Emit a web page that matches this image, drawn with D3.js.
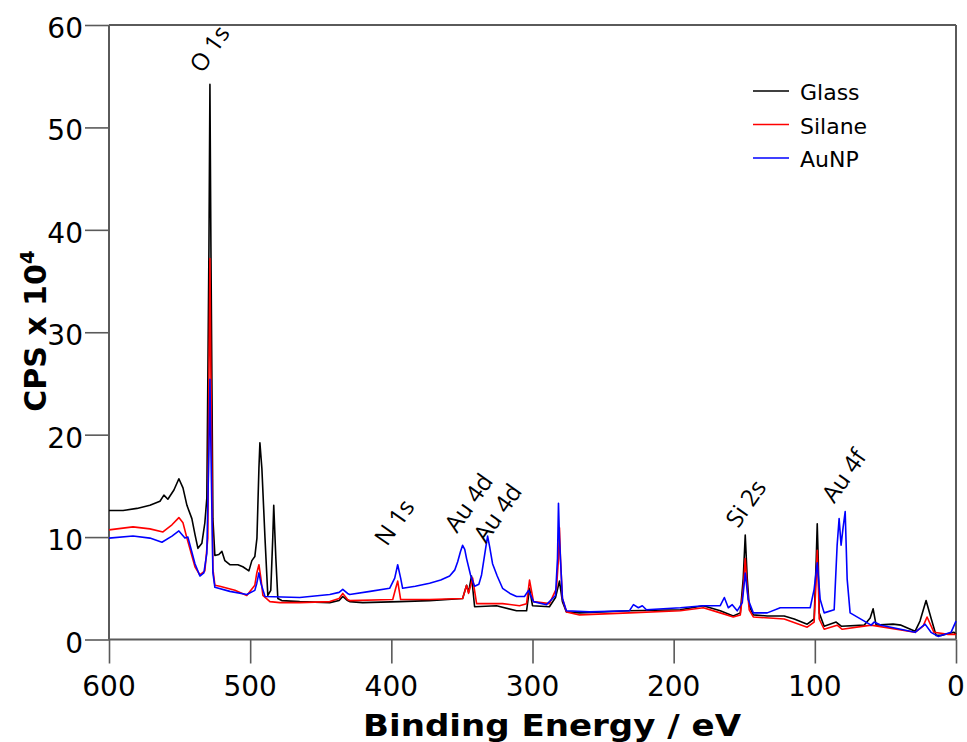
<!DOCTYPE html>
<html>
<head>
<meta charset="utf-8">
<script src="https://cdn.jsdelivr.net/npm/d3@7"></script>
<style>
  body { margin: 0; background: #fff; }
  text { font-family: "DejaVu Sans", Verdana, sans-serif; }
</style>
</head>
<body>
<div id="xps_chart"></div>
<script>
// binding energy (eV), counts (x 10^4)
var glass = [
  [600,12.6],[590,12.6],[580.2,12.8],[571,13.1],[563.9,13.5],[561.1,14.1],[558.3,13.7],[554,14.6],
  [550.5,15.7],[547.6,14.8],[544.8,13.1],[541.3,11.8],[539,10.2],[537,8.9],[534.2,9.4],[532.1,11.4],
  [530.7,13.8],[529.2,38.3],[528.5,54.2],[527.8,38.3],[526.4,11.8],[525,8.2],[522.2,8.3],
  [520,8.6],[517.9,7.7],[514.4,7.3],[508.7,7.3],[505.2,7.1],[500.9,6.7],[498.8,7.7],
  [496.7,8.1],[495.2,9.9],[493.8,16.7],[493.1,19.2],[491.7,16.7],[489.5,9.9],[487.5,4.3],
  [485.4,4.8],[484,9.9],[483.3,13.1],[481.8,7.9],[480.4,4.0],[477.6,3.8],[464.9,3.7],
  [443.6,3.6],[437,3.8],[434.4,4.2],[431,3.8],[429.5,3.7],[420.3,3.6],[394.1,3.7],[372.9,3.8],[349.5,4.0],
  [346.7,5.3],[345.3,4.6],[343.2,6.2],[341,3.2],[325.5,3.3],[311.3,2.8],[304.2,2.8],
  [302.1,5.0],[300,3.3],[288,3.2],[283.7,4.1],[280.9,5.7],[278.8,3.7],[276,2.7],
  [266.7,2.6],[231.4,2.8],[195.3,2.9],[179,3.3],[167,2.8],[157.8,2.3],[152.8,2.6],
  [150.7,6.0],[149.3,10.2],[147.9,6.0],[146.5,3.3],[143.6,2.4],[133.7,2.3],[121.7,2.3],
  [114.6,2.0],[105.4,1.5],[100.5,2.0],[99,7.9],[98.3,11.3],[97.6,7.9],[96.9,2.6],
  [93.4,1.3],[84.9,1.7],[81.3,1.3],[65.1,1.4],[60.8,2.1],[58.7,3.0],[56.6,1.4],
  [44.6,1.5],[38.9,1.4],[29,0.8],[25.5,1.8],[21.2,3.8],[17.7,2.1],[14.1,0.4],
  [10.6,0.4],[1.4,0.7],[0,0.5]
];

var silane = [
  [600,10.7],[583,11.0],[571,10.8],[561.8,10.5],[555.4,11.2],[550.5,11.9],[547.6,11.4],
  [544.8,9.9],[539.1,7.1],[535.6,6.3],[532.1,6.7],[530,9.9],[529.2,25.5],[528.5,37.2],
  [527.8,25.5],[526.4,6.9],[525,5.3],[521.5,5.2],[510.8,4.8],[502.4,4.3],[496.7,5.3],
  [495.3,6.5],[493.8,7.3],[492.4,6.0],[491,4.3],[486,3.7],[479,3.6],[464.9,3.6],
  [443.6,3.7],[437,4.0],[434.4,4.5],[431,3.9],[429.5,3.8],[399,3.9],[396.9,5.0],[395.5,5.7],[394.1,4.5],
  [393.4,3.9],[372.9,3.9],[349.5,4.0],[346.7,5.3],[345.3,4.5],[342.4,6.0],[339.6,3.5],
  [321.2,3.5],[309.2,3.3],[304.2,3.5],[302.1,5.8],[299.3,3.7],[288,3.5],[283,5.0],
  [281.6,7.9],[280.9,10.9],[280.2,7.9],[278.8,4.0],[276,2.7],[266.7,2.4],[231.4,2.6],
  [195.3,2.8],[179,3.1],[167,2.6],[157.8,2.2],[152.8,2.4],[150.7,5.0],[149.3,7.9],
  [147.9,5.0],[146.5,2.9],[143.6,2.2],[121.7,2.0],[105.4,1.2],[100.5,1.7],[99,6.0],
  [98.3,8.7],[97.6,6.0],[96.9,2.0],[93.4,1.0],[84.2,1.4],[80.6,1.0],[60.1,1.4],
  [29,0.7],[23.3,1.3],[20.5,2.2],[15.6,0.7],[5.6,0.5],[0,0.5]
];

var aunp = [
  [600,9.9],[583,10.1],[571,9.9],[562.5,9.5],[555.4,10.1],[550.5,10.6],[546.2,9.9],
  [544.1,10.0],[539.1,7.4],[535.6,6.2],[532.8,6.5],[530.7,8.4],[529.2,18.7],[528.5,25.4],
  [527.8,18.7],[526.4,6.5],[525,5.1],[514.4,4.7],[502.4,4.4],[496.7,4.8],[495.3,5.5],
  [493.8,6.5],[492.4,5.5],[489.5,4.2],[464.9,4.1],[443.6,4.4],[437,4.6],[434.4,4.9],[431,4.5],[429.5,4.4],
  [415,4.7],[401.2,5.0],[397.6,6.0],[395.5,7.3],[393.4,6.0],[392,5.0],[383,5.2],[372.9,5.5],[365,5.8],[358.7,6.2],
  [355,6.8],[353,7.6],[351,8.6],[349.5,9.2],[348,8.8],[346.7,7.9],[343.9,6.3],[341,5.2],[338,5.4],[336.1,6.3],[333.2,8.9],
  [331.8,10.1],[330.4,9.1],[328.3,7.4],[325,6.2],[321.2,5.0],[316,4.5],[311.3,4.2],[305.7,4.2],[302.8,4.8],
  [299.3,3.7],[290.1,3.4],[283.7,4.3],[282.3,7.9],[281.6,13.3],[280.9,9.9],[278.8,4.0],
  [276,2.8],[259.7,2.7],[231.4,2.8],[228.5,3.4],[225,3.1],[222.2,3.3],[219.3,2.9],
  [195.3,3.1],[179,3.3],[167,3.3],[164.1,4.1],[161.3,3.1],[158.5,3.4],[155,2.8],
  [151.4,3.6],[149.3,6.5],[147.2,3.9],[143.6,2.6],[133.7,2.6],[124.5,3.1],[103.3,3.1],
  [100.5,4.9],[98.3,7.5],[96.2,3.9],[93.4,2.6],[86.3,2.9],[84.2,9.2],[82.8,11.8],
  [81.4,9.2],[80,10.9],[78.5,12.5],[77.1,5.9],[75,2.6],[60.1,1.4],[58,1.7],[53,1.4],
  [29,0.7],[21.9,1.5],[17.7,0.7],[12.7,0.3],[3.5,0.7],[0,1.8]
];

var seriesNames = ["Glass", "Silane", "AuNP"];
var seriesColors = ["#000000", "#ff0000", "#0000ff"];

var xTicks = [600, 500, 400, 300, 200, 100, 0];
var yTicks = [0, 10, 20, 30, 40, 50, 60];

// peak labels: text, energy, level where label starts
var peakLabels = ["O 1s", "N 1s", "Au 4d", "Au 4d", "Si 2s", "Au 4f"];
var peakBE = [534.0, 403.0, 353.5, 333.0, 154.3, 86.3];
var peakY = [55.2, 9.0, 10.3, 9.3, 10.8, 13.2];

drawXps();

function drawXps() {
  var W = 967, H = 742;
  var left = 109, right = 956, top = 25, bottom = 639.5;

  var svg = d3.select("#xps_chart")
    .append("svg")
      .attr("width", W)
      .attr("height", H);

  var x = d3.scaleLinear().domain([600, 0]).range([left, right]);
  var y = d3.scaleLinear().domain([0, 60]).range([bottom, top]);

  var axisColor = "#5a5a5a";

  // frame: top + right
  svg.append("line")
    .attr("x1", left).attr("x2", right).attr("y1", top).attr("y2", top)
    .style("stroke", axisColor).style("stroke-width", 2);
  svg.append("line")
    .attr("x1", right).attr("x2", right).attr("y1", top).attr("y2", bottom)
    .style("stroke", axisColor).style("stroke-width", 2);

  // minor ticks (6 per major step)
  var xMinor = d3.range(0, 601, 100 / 6).filter(function (v) { return Math.abs(v % 100) > 1 && Math.abs(v % 100) < 99; });
  var yMinor = d3.range(0, 60.01, 10 / 6).filter(function (v) { return Math.abs(v % 10) > 0.1 && Math.abs(v % 10) < 9.9; });

  var gx = svg.append("g").attr("transform", "translate(0," + bottom + ")");
  gx.call(d3.axisBottom(x).tickValues(xMinor).tickSize(12).tickFormat(""));
  gx.call(d3.axisBottom(x).tickValues(xTicks).tickSize(24).tickFormat(""));
  gx.select(".domain").remove();
  gx.selectAll(".tick line").style("stroke", axisColor).style("stroke-width", 1.6);

  var gy = svg.append("g").attr("transform", "translate(" + left + ",0)");
  gy.call(d3.axisLeft(y).tickValues(yMinor).tickSize(12).tickFormat(""));
  gy.call(d3.axisLeft(y).tickValues(yTicks).tickSize(24).tickFormat(""));
  gy.select(".domain").remove();
  gy.selectAll(".tick line").style("stroke", axisColor).style("stroke-width", 1.6);

  // axis lines
  svg.append("line")
    .attr("x1", left).attr("x2", right).attr("y1", bottom).attr("y2", bottom)
    .style("stroke", axisColor).style("stroke-width", 2);
  svg.append("line")
    .attr("x1", left).attr("x2", left).attr("y1", top).attr("y2", bottom)
    .style("stroke", axisColor).style("stroke-width", 2);

  // tick labels
  xTicks.forEach(function (t) {
    svg.append("text")
      .attr("x", x(t))
      .attr("y", 696)
      .attr("text-anchor", "middle")
      .style("font-size", "28px")
      .text(t);
  });
  yTicks.forEach(function (t) {
    svg.append("text")
      .attr("x", 83)
      .attr("y", y(t) + 13)
      .attr("text-anchor", "end")
      .style("font-size", "28px")
      .text(t);
  });

  // axis titles
  svg.append("text")
    .attr("x", 552)
    .attr("y", 736)
    .attr("text-anchor", "middle")
    .attr("textLength", 378)
    .attr("lengthAdjust", "spacingAndGlyphs")
    .style("font-weight", "bold")
    .style("font-size", "31px")
    .text("Binding Energy / eV");

  var yt = svg.append("text")
    .attr("transform", "translate(46,331)rotate(-90)")
    .attr("text-anchor", "middle")
    .style("font-weight", "bold")
    .style("font-size", "30px");
  yt.append("tspan").text("CPS x 10");
  yt.append("tspan").attr("dy", -12).style("font-size", "20px").text("4");

  // spectra
  var line = d3.line()
    .x(function (d) { return x(d[0]); })
    .y(function (d) { return y(d[1]); });

  [glass, silane, aunp].forEach(function (s, i) {
    svg.append("path")
      .datum(s)
      .attr("d", line)
      .attr("fill", "none")
      .style("stroke", seriesColors[i])
      .style("stroke-width", 1.6)
      .style("stroke-linejoin", "round");
  });

  // peak annotations
  peakLabels.forEach(function (lab, i) {
    svg.append("text")
      .attr("transform", "translate(" + x(peakBE[i]) + "," + y(peakY[i]) + ")rotate(-55)")
      .style("font-family", "'Open Sans', sans-serif")
      .style("font-size", "24px")
      .text(lab);
  });

  // legend
  seriesNames.forEach(function (n, i) {
    var ly = 91 + i * 33.5;
    svg.append("line")
      .attr("x1", 753).attr("x2", 789).attr("y1", ly).attr("y2", ly)
      .style("stroke", seriesColors[i]).style("stroke-width", 1.6);
    svg.append("text")
      .attr("x", 800)
      .attr("y", ly + 9)
      .style("font-size", "22px")
      .text(n);
  });
}
</script>
</body>
</html>
